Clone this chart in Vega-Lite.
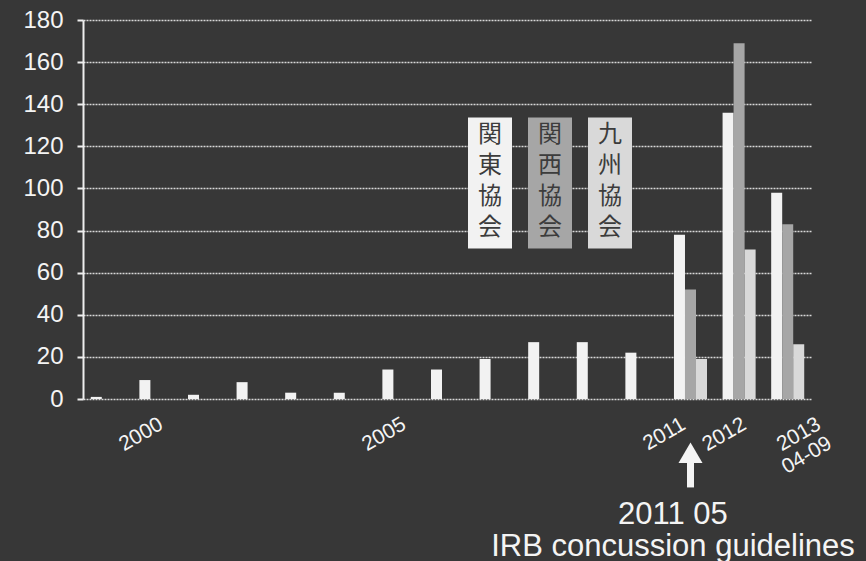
{
  "$schema": "https://vega.github.io/schema/vega-lite/v6.json",
  "width": 729,
  "height": 379,
  "autosize": {"type": "none"},
  "padding": {"left": 83, "top": 20, "right": 54, "bottom": 162},
  "background": "#373737",
  "config": {
    "view": {"stroke": null},
    "font": "Liberation Sans"
  },
  "title": {
    "text": ["2011 05", "IRB concussion guidelines"],
    "orient": "bottom",
    "anchor": "start",
    "align": "center",
    "dx": 650,
    "offset": 9,
    "fontSize": 31,
    "fontWeight": "normal",
    "font": "Liberation Sans",
    "color": "#f4f4f4",
    "lineHeight": 32
  },
  "datasets": {
    "counts": [
      {"year": "1999", "association": "関東協会", "count": 1},
      {"year": "2000", "association": "関東協会", "count": 9},
      {"year": "2001", "association": "関東協会", "count": 2},
      {"year": "2002", "association": "関東協会", "count": 8},
      {"year": "2003", "association": "関東協会", "count": 3},
      {"year": "2004", "association": "関東協会", "count": 3},
      {"year": "2005", "association": "関東協会", "count": 14},
      {"year": "2006", "association": "関東協会", "count": 14},
      {"year": "2007", "association": "関東協会", "count": 19},
      {"year": "2008", "association": "関東協会", "count": 27},
      {"year": "2009", "association": "関東協会", "count": 27},
      {"year": "2010", "association": "関東協会", "count": 22},
      {"year": "2011", "association": "関東協会", "count": 78},
      {"year": "2011", "association": "関西協会", "count": 52},
      {"year": "2011", "association": "九州協会", "count": 19},
      {"year": "2012", "association": "関東協会", "count": 136},
      {"year": "2012", "association": "関西協会", "count": 169},
      {"year": "2012", "association": "九州協会", "count": 71},
      {"year": "2013", "association": "関東協会", "count": 98},
      {"year": "2013", "association": "関西協会", "count": 83},
      {"year": "2013", "association": "九州協会", "count": 26}
    ],
    "guideline": [
      {"year": "2011", "event": "IRB concussion guidelines"}
    ]
  },
  "layer": [
    {
      "data": {"name": "counts"},
      "mark": {"type": "bar"},
      "encoding": {
        "x": {
          "field": "year",
          "type": "nominal",
          "scale": {"paddingInner": 0.32, "paddingOuter": 0.16},
          "axis": {
            "title": null,
            "ticks": false,
            "domain": false,
            "labelAngle": -30,
            "labelFontSize": 21,
            "labelFont": "Liberation Sans",
            "labelColor": "#f4f4f4",
            "labelPadding": 14,
            "labelLineHeight": 22,
            "labelOverlap": false,
            "labelBound": false,
            "labelOffset": {
              "condition": [
                {"test": "datum.value == '2011'", "value": -12},
                {"test": "datum.value == '2013'", "value": 26}
              ],
              "value": 0
            },
            "labelExpr": "indexof(['2000','2005','2011','2012'], datum.value) >= 0 ? datum.value : (datum.value == '2013' ? ['2013', '04-09'] : '')"
          }
        },
        "xOffset": {
          "field": "association",
          "type": "nominal",
          "scale": {"domain": ["関東協会", "関西協会", "九州協会"]}
        },
        "y": {
          "field": "count",
          "type": "quantitative",
          "scale": {"domain": [0, 180], "nice": false},
          "axis": {
            "title": null,
            "values": [0, 20, 40, 60, 80, 100, 120, 140, 160, 180],
            "labelFontSize": 24,
            "labelFont": "Liberation Sans",
            "labelColor": "#f4f4f4",
            "labelPadding": 14,
            "tickSize": 6,
            "tickWidth": 2,
            "tickColor": "#eeeeee",
            "domainColor": "#eeeeee",
            "domainWidth": 2,
            "grid": true,
            "gridColor": "#d8d8d8",
            "gridDash": [2, 1],
            "gridWidth": 1.5
          }
        },
        "color": {
          "field": "association",
          "type": "nominal",
          "scale": {
            "domain": ["関東協会", "関西協会", "九州協会"],
            "range": ["#f2f2f2", "#a6a6a6", "#d9d9d9"]
          },
          "legend": {
            "orient": "none",
            "legendX": 385,
            "legendY": 93,
            "direction": "horizontal",
            "title": null,
            "padding": 0,
            "symbolType": "M-1,-0.82H1V5.14H-1Z",
            "symbolSize": 1936,
            "symbolOpacity": 1,
            "symbolStrokeWidth": 0,
            "columnPadding": 16,
            "labelExpr": "split(datum.label, '')",
            "labelAlign": "center",
            "labelBaseline": "middle",
            "labelOffset": -22,
            "labelFont": "Noto Sans CJK JP",
            "labelFontSize": 24,
            "labelColor": "#3c3c3c",
            "labelLimit": 0,
            "encode": {
              "labels": {"update": {"lineHeight": {"value": 31}}}
            }
          }
        }
      }
    },
    {
      "data": {"name": "guideline"},
      "mark": {"type": "rule", "strokeWidth": 7, "color": "#f4f4f4"},
      "encoding": {
        "x": {"field": "year", "type": "nominal"},
        "y": {"datum": -28},
        "y2": {"datum": -42}
      }
    },
    {
      "data": {"name": "guideline"},
      "mark": {
        "type": "point",
        "shape": "M0,-0.85L1,0.85L-1,0.85Z",
        "filled": true,
        "size": 576,
        "opacity": 1,
        "color": "#f4f4f4"
      },
      "encoding": {
        "x": {"field": "year", "type": "nominal"},
        "y": {"datum": -25.5}
      }
    }
  ]
}
